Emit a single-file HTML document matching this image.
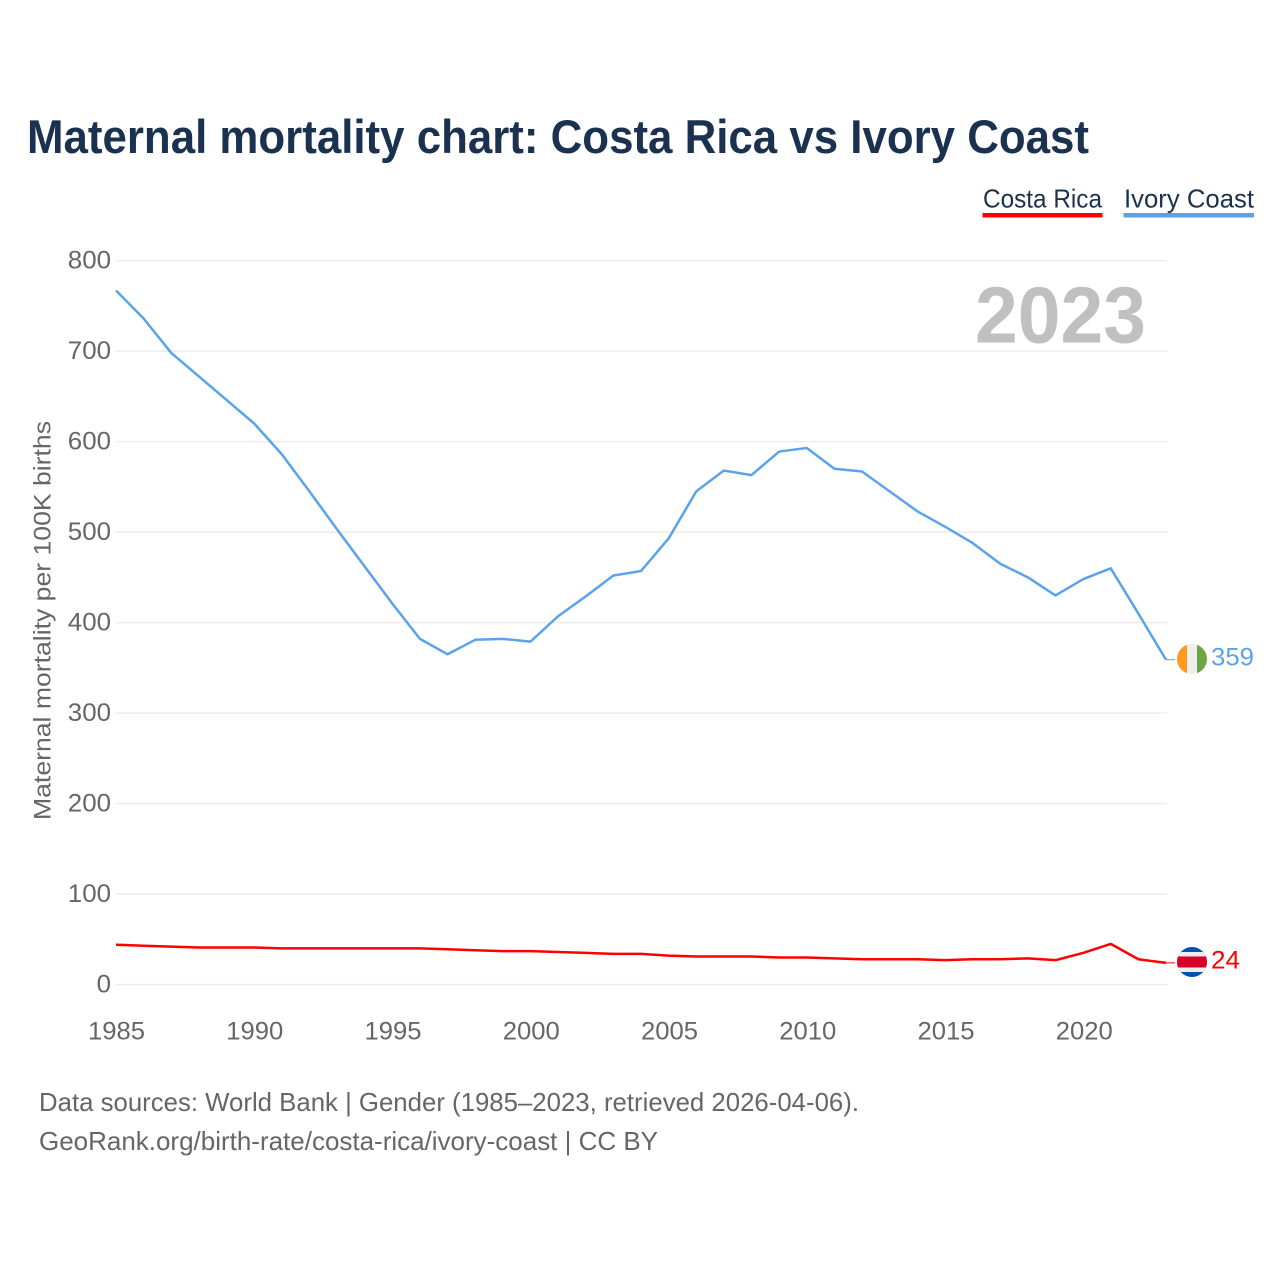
<!DOCTYPE html>
<html lang="en">
<head>
<meta charset="utf-8">
<title>Maternal mortality chart: Costa Rica vs Ivory Coast</title>
<style>
html,body{margin:0;padding:0;background:#fff;width:1280px;height:1280px;overflow:hidden}
svg{display:block}
text{font-family:"Liberation Sans",sans-serif}
</style>
</head>
<body>
<svg id="chart" xmlns="http://www.w3.org/2000/svg" width="1280" height="1280" viewBox="0 0 1280 1280">
  <defs>
    <clipPath id="flag-clip"><circle cx="0" cy="0" r="15"/></clipPath>
  </defs>
  <rect width="1280" height="1280" fill="#fff"/>
  <text x="27" y="153" font-size="47" font-weight="700" fill="#1a3150" textLength="1062" lengthAdjust="spacingAndGlyphs">Maternal mortality chart: Costa Rica vs Ivory Coast</text>

  <g>
    <g>
      <text x="983" y="207.500" font-size="26" fill="#1a3150" textLength="119" lengthAdjust="spacingAndGlyphs">Costa Rica</text>
      <rect x="982.500" y="213" width="120" height="4.500" fill="#ff0000"/>
    </g>
    <g>
      <text x="1124" y="207.500" font-size="26" fill="#1a3150" textLength="130" lengthAdjust="spacingAndGlyphs">Ivory Coast</text>
      <rect x="1123.500" y="213" width="130.500" height="4.500" fill="#5ba3e8"/>
    </g>
  </g>

  <g id="grid"></g>
  <g id="y-ticks"></g>
  <g id="x-ticks"></g>

  <text transform="translate(50.500 620.500) rotate(-90)" text-anchor="middle" font-size="24.500" fill="#666666" textLength="399" lengthAdjust="spacingAndGlyphs">Maternal mortality per 100K births</text>

  <text x="975" y="342.500" font-size="80" font-weight="700" fill="#c0c0c0" textLength="171" lengthAdjust="spacingAndGlyphs">2023</text>

  <g id="series"></g>

  <g id="flag-ivory-coast">
    <g clip-path="url(#flag-clip)">
      <rect x="-15" y="-15" width="30" height="30" fill="#eeeeee"/>
      <rect x="-15" y="-15" width="10" height="30" fill="#ff9a1e"/>
      <rect x="5" y="-15" width="10" height="30" fill="#6da544"/>
    </g>
  </g>
  <g id="flag-costa-rica">
    <g clip-path="url(#flag-clip)">
      <rect x="-15" y="-15" width="30" height="30" fill="#0052b4"/>
      <rect x="-15" y="-10" width="30" height="20" fill="#eeeeee"/>
      <rect x="-15" y="-5.500" width="30" height="11" fill="#d80027"/>
    </g>
  </g>
  <g id="end-labels"></g>

  <g>
    <text x="39" y="1111" font-size="26" fill="#666666" textLength="820" lengthAdjust="spacingAndGlyphs">Data sources: World Bank | Gender (1985–2023, retrieved 2026-04-06).</text>
    <text x="39" y="1150" font-size="26" fill="#666666" textLength="619" lengthAdjust="spacingAndGlyphs">GeoRank.org/birth-rate/costa-rica/ivory-coast | CC BY</text>
  </g>
</svg>
<script>
const firstYear = 1985;
const lastYear = 2023;
const yTickLabels = [0, 100, 200, 300, 400, 500, 600, 700, 800];
const xTickLabels = [1985, 1990, 1995, 2000, 2005, 2010, 2015, 2020];
const years = [1985,1986,1987,1988,1989,1990,1991,1992,1993,1994,1995,1996,1997,1998,1999,2000,2001,2002,2003,2004,2005,2006,2007,2008,2009,2010,2011,2012,2013,2014,2015,2016,2017,2018,2019,2020,2021,2022,2023];
const ivoryCoast = [767,736,698,672,646,620,586,545,503,462,421,382,365,381,382,379,407,429,452,457,493,545,568,563,589,593,570,567,545,523,506,488,465,450,430,448,460,410,359];
const costaRica = [44,43,42,41,41,41,40,40,40,40,40,40,39,38,37,37,36,35,34,34,32,31,31,31,30,30,29,28,28,28,27,28,28,29,27,35,45,28,24];

const NS = 'http://www.w3.org/2000/svg';
function xScale(year) { return 116 + (year - firstYear) * (1166 - 116) / (lastYear - firstYear); }
function yScale(value) { return 984.6 - value * 0.905; }
function make(tag, attrs, parent) {
  const el = document.createElementNS(NS, tag);
  for (const k in attrs) el.setAttribute(k, attrs[k]);
  parent.appendChild(el);
  return el;
}

const grid = document.getElementById('grid');
const yTicks = document.getElementById('y-ticks');
const xTicks = document.getElementById('x-ticks');
const seriesGroup = document.getElementById('series');
const endLabels = document.getElementById('end-labels');

yTickLabels.forEach(function (v) {
  const line = make('line', {x1: 116, x2: 1167, y1: yScale(v), y2: yScale(v), stroke: '#ececec', 'stroke-width': 1.5}, grid);
  
  
  const label = make('text', {x: 111, y: yScale(v) + 8, 'text-anchor': 'end', 'font-size': 25, fill: '#666666', textLength: String(v).length * 14.4, lengthAdjust: 'spacingAndGlyphs'}, yTicks);
  label.textContent = v;
  
  
});

xTickLabels.forEach(function (y) {
  const label = make('text', {x: 116.5 + (y - firstYear) * 27.65, y: 1039.5, 'text-anchor': 'middle', 'font-size': 25, fill: '#666666', textLength: 57, lengthAdjust: 'spacingAndGlyphs'}, xTicks);
  label.textContent = y;
  
  
});

function linePoints(values) {
  return values.map(function (v, i) { return xScale(years[i]).toFixed(2) + ',' + yScale(v).toFixed(2); }).join(' ');
}

const ivoryLine = make('polyline', {points: linePoints(ivoryCoast), fill: 'none', stroke: '#5ba3e8', 'stroke-width': 2.5, 'stroke-linejoin': 'round'}, seriesGroup);



const costaLine = make('polyline', {points: linePoints(costaRica), fill: 'none', stroke: '#ff0000', 'stroke-width': 2.5, 'stroke-linejoin': 'round'}, seriesGroup);



const ivoryEnd = ivoryCoast[ivoryCoast.length - 1];
const costaEnd = costaRica[costaRica.length - 1];
const endX = xScale(lastYear);

const ivoryConnector = make('line', {x1: endX, x2: endX + 9, y1: yScale(ivoryEnd), y2: yScale(ivoryEnd), stroke: '#5ba3e8', 'stroke-width': 1}, seriesGroup);



const costaConnector = make('line', {x1: endX, x2: endX + 9, y1: yScale(costaEnd), y2: yScale(costaEnd), stroke: '#ff0000', 'stroke-width': 1}, seriesGroup);



document.getElementById('flag-ivory-coast').setAttribute('transform', 'translate(' + (endX + 26) + ' ' + (yScale(ivoryEnd) - 0.7) + ')');
document.getElementById('flag-costa-rica').setAttribute('transform', 'translate(' + (endX + 26) + ' ' + (yScale(costaEnd) - 0.9) + ')');

const ivoryLabel = make('text', {x: endX + 45, y: yScale(ivoryEnd) + 6, 'font-size': 25, fill: '#5ba3e8', textLength: 43, lengthAdjust: 'spacingAndGlyphs'}, endLabels);
ivoryLabel.textContent = ivoryEnd;



const costaLabel = make('text', {x: endX + 45, y: yScale(costaEnd) + 5.5, 'font-size': 25, fill: '#ff0000', textLength: 29, lengthAdjust: 'spacingAndGlyphs'}, endLabels);
costaLabel.textContent = costaEnd;


</script>
</body>
</html>
